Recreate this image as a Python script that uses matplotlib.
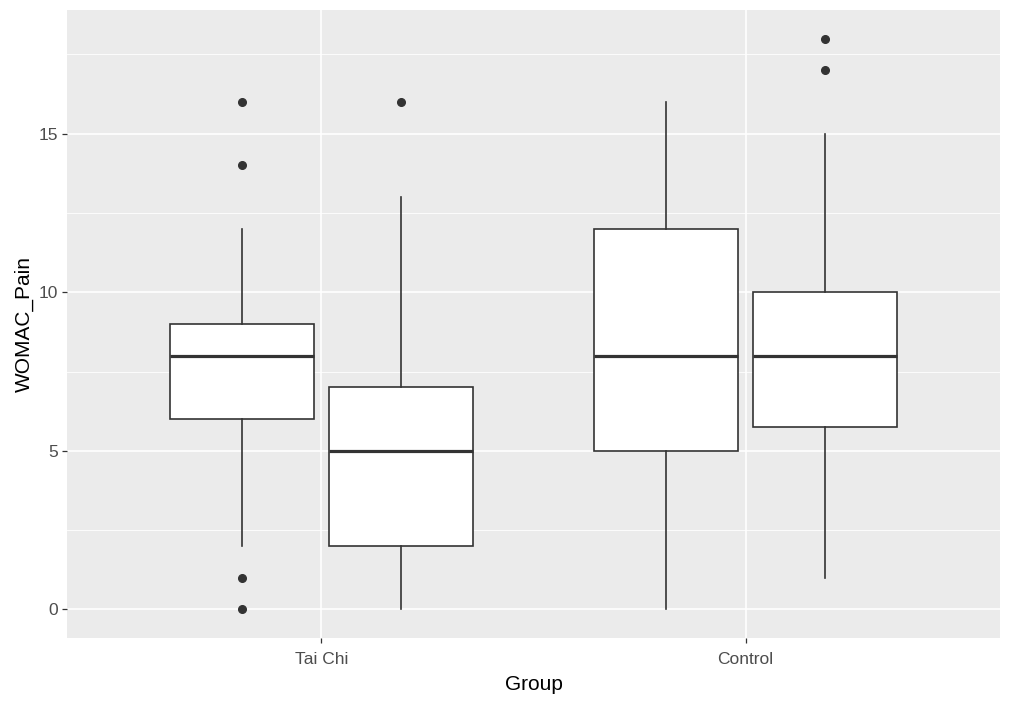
import matplotlib
matplotlib.use("Agg")
import matplotlib.pyplot as plt
from matplotlib.ticker import MultipleLocator

plt.rcParams['font.family'] = ['Liberation Sans', 'DejaVu Sans']

groups = ["Tai Chi", "Control"]
# Two boxes per group (left, right)
whislo = [[2, 0], [0, 1]]
q1 = [[6, 2], [5, 5.75]]
med = [[8, 5], [8, 8]]
q3 = [[9, 7], [12, 10]]
whishi = [[12, 13], [16, 15]]
fliers = [[[16, 14, 1, 0], [16]], [[], [17, 18]]]

fig = plt.figure(figsize=(10.14, 7.04), dpi=100)
ax = fig.add_axes([67 / 1014, 1 - 638 / 704, (1000 - 67) / 1014, (638 - 10) / 704])
ax.set_facecolor('#EBEBEB')

offsets = [-0.1875, 0.1875]
width = 0.3375
for gi, g in enumerate(groups):
    for bi in range(2):
        st = [dict(whislo=whislo[gi][bi], q1=q1[gi][bi], med=med[gi][bi],
                   q3=q3[gi][bi], whishi=whishi[gi][bi], fliers=fliers[gi][bi])]
        ax.bxp(st, positions=[gi + 1 + offsets[bi]], widths=width,
               patch_artist=True, showcaps=False, manage_ticks=False,
               boxprops=dict(facecolor='white', edgecolor='#333333', linewidth=1.2),
               whiskerprops=dict(color='#333333', linewidth=1.2),
               medianprops=dict(color='#333333', linewidth=2.3),
               flierprops=dict(marker='o', markerfacecolor='#333333',
                               markeredgecolor='#333333', markersize=5.5))

ax.set_xlim(0.4, 2.6)
ax.set_ylim(-0.9, 18.9)
ax.set_xticks([1, 2])
ax.set_xticklabels(groups)
ax.yaxis.set_major_locator(MultipleLocator(5))
ax.yaxis.set_minor_locator(MultipleLocator(2.5))
ax.grid(which='major', color='white', linewidth=1.2)
ax.grid(which='minor', axis='y', color='white', linewidth=0.6)
ax.set_axisbelow(True)
for s in ax.spines.values():
    s.set_visible(False)
ax.tick_params(which='major', length=3.6, width=0.9, color='#333333', labelsize=12.5,
               labelcolor='#4D4D4D', pad=3)
ax.tick_params(axis='x', pad=6.5)
ax.tick_params(which='minor', length=0)
ax.set_xlabel('Group', fontsize=15, color='black', labelpad=6)
ax.set_ylabel('WOMAC_Pain', fontsize=15, color='black', labelpad=3.5)

fig.savefig('out.png', dpi=100)
